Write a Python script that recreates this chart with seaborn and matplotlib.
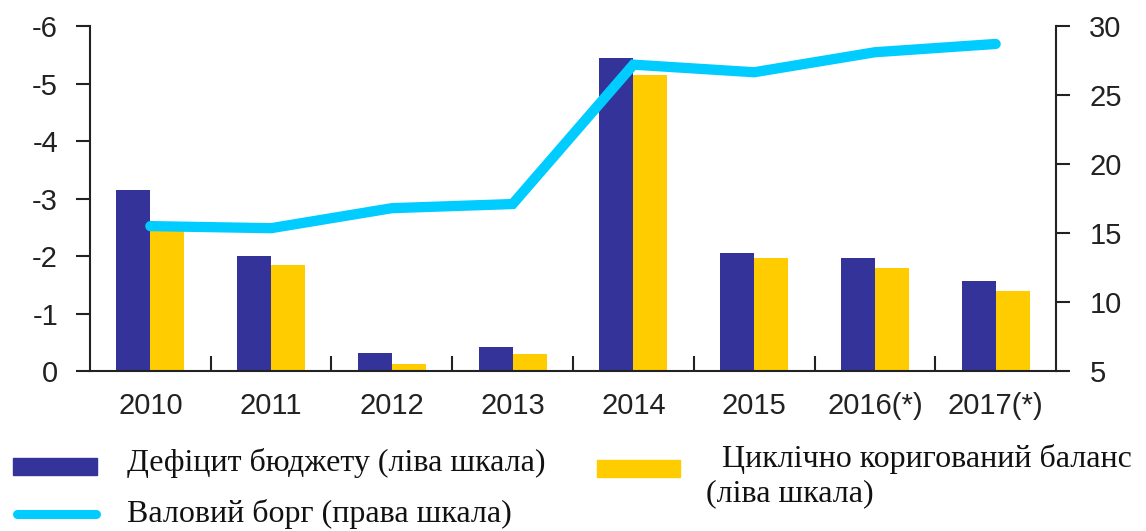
import numpy as np
import pandas as pd
import matplotlib
matplotlib.use("Agg")
import matplotlib.pyplot as plt
from matplotlib.patches import Rectangle
from matplotlib.lines import Line2D
from matplotlib.ticker import FuncFormatter, FixedLocator
import seaborn as sns

# Data
years = ["2010", "2011", "2012", "2013", "2014", "2015", "2016(*)", "2017(*)"]
budget_deficit = [-3.15, -2.0, -0.32, -0.41, -5.44, -2.06, -1.97, -1.57]
cyclical_balance = [-2.5, -1.85, -0.12, -0.30, -5.15, -1.96, -1.79, -1.40]
gross_debt = [15.5, 15.35, 16.8, 17.1, 27.2, 26.65, 28.1, 28.7]

deficit_label = "Дефіцит бюджету (ліва шкала)"
balance_label = "Циклічно коригований баланс"
balance_label_2 = "(ліва шкала)"
debt_label = "Валовий борг (права шкала)"

left_ticks = [0, -1, -2, -3, -4, -5, -6]
right_ticks = [5, 10, 15, 20, 25, 30]

c_deficit = "#333399"
c_balance = "#FFCC00"
c_debt = "#00CCFF"
c_axis = "#222222"

sns.set_style("ticks")
plt.rcParams["font.family"] = ["Liberation Sans", "DejaVu Sans"]
plt.rcParams["axes.unicode_minus"] = False

df = pd.DataFrame({
    "year": years * 2,
    "value": budget_deficit + cyclical_balance,
    "series": ["deficit"] * len(years) + ["balance"] * len(years),
})

fig = plt.figure(figsize=(11.46, 5.31), dpi=100)
ax = fig.add_axes([0.0785, 0.3013, 0.843, 0.6497])

sns.barplot(data=df, x="year", y="value", hue="series",
            palette={"deficit": c_deficit, "balance": c_balance},
            width=0.565, gap=0, saturation=1, linewidth=0,
            legend=False, ax=ax, zorder=2)

ax2 = ax.twinx()
sns.lineplot(x=np.arange(len(years)), y=gross_debt, ax=ax2, color=c_debt,
             linewidth=7.4, solid_capstyle="round", solid_joinstyle="miter",
             zorder=3)

# Left axis: inverted, 0 at bottom
ax.set_ylim(0, -6)
ax.yaxis.set_major_locator(FixedLocator(left_ticks))
ax.yaxis.set_major_formatter(FuncFormatter(lambda v, p: f"{int(round(v))}"))
ax.set_xlim(-0.5, len(years) - 0.5)
ax2.set_xlim(-0.5, len(years) - 0.5)
ax2.set_ylim(5, 30)
ax2.yaxis.set_major_locator(FixedLocator(right_ticks))

ax.set_xlabel("")
ax.set_ylabel("")
ax2.set_xlabel("")
ax2.set_ylabel("")

for a in (ax, ax2):
    for s in a.spines.values():
        s.set_color(c_axis)
        s.set_linewidth(1.5)
    a.spines["top"].set_visible(False)
ax.spines["right"].set_visible(False)
ax2.spines["left"].set_visible(False)
ax2.spines["bottom"].set_visible(False)

ax.tick_params(axis="y", direction="out", length=10, width=1.5,
               color=c_axis, labelsize=21, labelcolor=c_axis, pad=13)
ax2.tick_params(axis="y", direction="out", length=10, width=1.5,
                color=c_axis, labelsize=21, labelcolor=c_axis, pad=14)
ax.tick_params(axis="x", which="major", length=0, labelsize=21,
               labelcolor=c_axis, pad=15)
ax.set_xticks(np.arange(0.5, len(years) - 1, 1.0), minor=True)
ax.tick_params(axis="x", which="minor", direction="in", length=11,
               width=1.5, color=c_axis)

# Legend drawn in figure coordinates
W, H = 1146, 531
def fx(px):
    return px / W
def fy(py):
    return 1 - py / H

fig.patches.append(Rectangle((fx(13), fy(475)), fx(84), 17 / H,
                             transform=fig.transFigure, color=c_deficit))
fig.patches.append(Rectangle((fx(597), fy(477)), fx(83), 17 / H,
                             transform=fig.transFigure, color=c_balance))
fig.lines.append(Line2D([fx(17), fx(96)], [fy(514), fy(514)],
                        transform=fig.transFigure, color=c_debt,
                        linewidth=6.5, solid_capstyle="round"))

serif = ["Liberation Serif", "DejaVu Serif"]
txt_kw = dict(family=serif, fontsize=23, color="#111111", va="center", ha="left")
fig.text(fx(127), fy(463), deficit_label, **txt_kw)
fig.text(fx(722), fy(459), balance_label, **txt_kw)
fig.text(fx(706), fy(494), balance_label_2, **txt_kw)
fig.text(fx(127), fy(514), debt_label, **txt_kw)

fig.savefig("out.png", dpi=100)
